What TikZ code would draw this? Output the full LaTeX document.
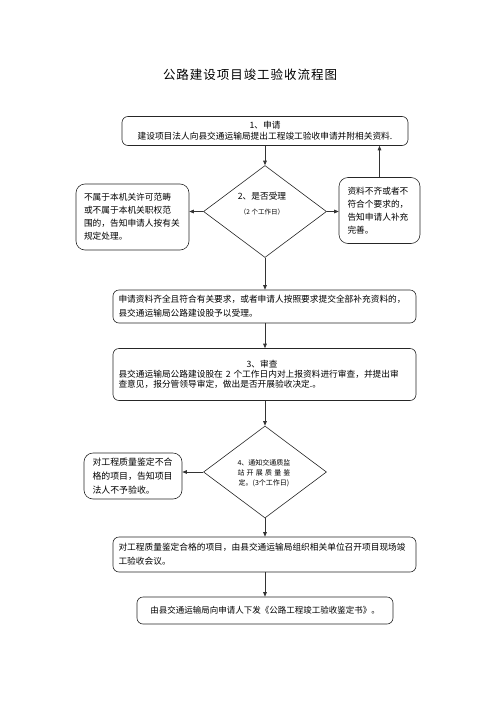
\documentclass[tikz,border=0pt]{standalone}
\usepackage{fontspec}
\newfontfamily\cjk{Noto Sans CJK SC}
\usetikzlibrary{shapes.geometric,arrows.meta}
\begin{document}
\begin{tikzpicture}[x=1pt,y=-1pt,
  box/.style={draw=black!85, line width=0.6pt, rounded corners=6pt, inner sep=0pt},
  sbox/.style={box, rounded corners=9pt},
  dia/.style={draw=black!85, line width=0.6pt, diamond, inner sep=0pt, minimum width=123pt, minimum height=92pt},
  txt/.style={inner sep=0pt},
  arr/.style={draw=black!80, line width=0.7pt, -{Triangle[length=4.5pt,width=3.6pt]}}]
\useasboundingbox (0,0) rectangle (500,707);
% title
\node[txt, font=\cjk\fontsize{12.5}{15}\selectfont] (title) at (250,75)
  {\makebox[174pt][s]{公\hfil 路\hfil 建\hfil 设\hfil 项\hfil 目\hfil 竣\hfil 工\hfil 验\hfil 收\hfil 流\hfil 程\hfil 图}};
% box 1
\node[box, minimum width=286pt, minimum height=29pt, text width=280pt, align=center,
      font=\cjk\fontsize{8.7}{11}\selectfont] (b1) at (265,131)
  {1、申请\\建设项目法人向县交通运输局提出工程竣工验收申请并附相关资料.};
% diamond 1
\node[dia] (d1) at (265,211.5) {};
\node[txt, align=center, font=\cjk\fontsize{8.7}{15}\selectfont] (d1t) at (262,203.5)
  {2、是否受理\\{\fontsize{6.5}{8}\selectfont （2 个工作日）}};
% left box 1
\node[sbox, minimum width=113pt, minimum height=66pt, text width=97pt, align=left,
      font=\cjk\fontsize{8.7}{13}\selectfont] (lb1) at (132.5,217)
  {不属于本机关许可范畴\\或不属于本机关职权范\\围的，告知申请人按有关\\规定处理。};
% right box 1
\node[sbox, minimum width=81pt, minimum height=66pt, text width=64pt, align=left,
      font=\cjk\fontsize{8.7}{12.8}\selectfont] (rb1) at (379.5,210.5)
  {资料不齐或者不\\符合个要求的，\\告知申请人补充\\完善。};
% box 2
\node[box, minimum width=303pt, minimum height=33pt, text width=292pt, align=left,
      font=\cjk\fontsize{8.7}{14}\selectfont] (b2) at (264.5,306.5)
  {申请资料齐全且符合有关要求，或者申请人按照要求提交全部补充资料的，\\县交通运输局公路建设股予以受理。};
% box 3
\node[box, minimum width=303pt, minimum height=52pt, text width=292pt, align=left,
      font=\cjk\fontsize{8.7}{10}\selectfont] (b3) at (264.5,374.5)
  {\makebox[287pt][c]{3、审查}\\\makebox[287pt][s]{县交通运输局公路建设股在 2 个工作日内对上报资料进行审查，并提出审}\\查意见，报分管领导审定，做出是否开展验收决定.。};
% diamond 2
\node[dia] (d2) at (265,472) {};
\node[txt, align=center, font=\cjk\fontsize{7}{10}\selectfont] (d2t) at (264,473)
  {4、通知交通质监\\\makebox[53pt][s]{站\hfil 开\hfil 展\hfil 质\hfil 量\hfil 鉴}\\定。(3个工作日)};
% left box 2
\node[sbox, minimum width=98pt, minimum height=46pt, text width=81pt, align=left,
      font=\cjk\fontsize{8.9}{14}\selectfont] (lb2) at (133,476)
  {对工程质量鉴定不合\\格的项目，告知项目\\法人不予验收。};
% box 4
\node[box, minimum width=303pt, minimum height=35pt, text width=292pt, align=left,
      font=\cjk\fontsize{8.7}{14}\selectfont] (b4) at (264.5,554.5)
  {对工程质量鉴定合格的项目，由县交通运输局组织相关单位召开项目现场竣\\工验收会议。};
% box 5
\node[box, minimum width=256pt, minimum height=27pt, align=center,
      font=\cjk\fontsize{8.5}{11}\selectfont] (b5) at (265,610.5)
  {由县交通运输局向申请人下发《公路工程竣工验收鉴定书》。};
% connectors
\draw[arr] (b1.south -| d1.north) -- (d1.north);
\draw[arr] (d1.west) -- (d1.west -| lb1.east);
\draw[arr] (d1.east) -- (d1.east -| rb1.west);
\draw[arr] (rb1.north) -- (rb1.north |- b1.south);
\draw[arr] (d1.south) -- (d1.south |- b2.north);
\draw[arr] (b2.south -| d1.south) -- (d1.south |- b3.north);
\draw[arr] (b3.south -| d2.north) -- (d2.north);
\draw[arr] (d2.west) -- (d2.west -| lb2.east);
\draw[arr] (d2.south) -- (d2.south |- b4.north);
\draw[arr] (b4.south -| d2.south) -- (d2.south |- b5.north);
\end{tikzpicture}
\end{document}
